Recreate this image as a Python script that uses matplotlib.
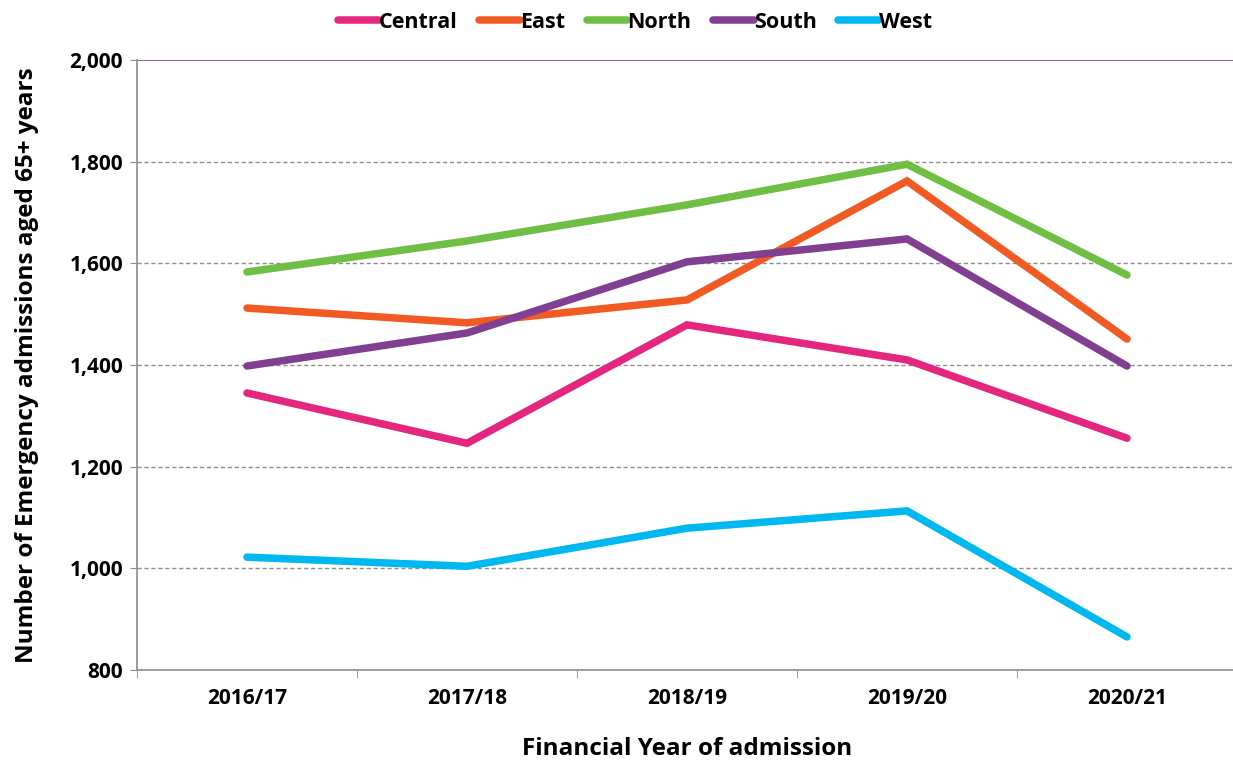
import matplotlib.pyplot as plt
from matplotlib.ticker import FuncFormatter

years = ["2016/17", "2017/18", "2018/19", "2019/20", "2020/21"]
central = [1345, 1246, 1479, 1410, 1256]
east = [1512, 1483, 1528, 1762, 1451]
north = [1583, 1644, 1715, 1795, 1577]
south = [1398, 1463, 1603, 1648, 1398]
west = [1022, 1004, 1079, 1113, 865]

series = [
    ("Central", central, "#E4267F"),
    ("East", east, "#F15A22"),
    ("North", north, "#70BF44"),
    ("South", south, "#803F91"),
    ("West", west, "#00B8F0"),
]

plt.rcParams['font.family'] = ['Open Sans', 'DejaVu Sans']

fig = plt.figure(figsize=(12.33, 7.6), dpi=100)
ax = fig.add_axes([137 / 1233, 90 / 760, 1100 / 1233, 610 / 760])

x = list(range(len(years)))
for name, vals, col in series:
    ax.plot(x, vals, color=col, lw=5.4, solid_capstyle='round',
            solid_joinstyle='miter', label=name)

ax.set_xlim(-0.5, len(years) - 0.5)
ax.set_ylim(800, 2000)
ax.set_yticks(range(800, 2001, 200))
ax.yaxis.set_major_formatter(FuncFormatter(lambda v, p: f"{int(v):,}"))
ax.set_xticks(x)
ax.set_xticklabels(years)
ax.set_xticks([i - 0.5 for i in range(len(years) + 1)], minor=True)

for v in range(1000, 2000, 200):
    ax.axhline(v, color="#8c8c8c", lw=1, ls=(0, (3, 2)), zorder=0)
ax.axhline(2000, color="#8A3E98", lw=1.2, zorder=0)

for side in ["top", "right"]:
    ax.spines[side].set_visible(False)
for side in ["left", "bottom"]:
    ax.spines[side].set_color("#8c8c8c")
    ax.spines[side].set_linewidth(1.2)

ax.tick_params(axis='y', length=5, color="#8c8c8c", labelsize=15, pad=5)
ax.tick_params(axis='x', which='major', length=0, labelsize=15, pad=13)
ax.tick_params(axis='x', which='minor', length=6, color="#8c8c8c")
for lab in ax.get_xticklabels() + ax.get_yticklabels():
    lab.set_fontweight('bold')

ax.set_xlabel("Financial Year of admission", fontsize=17.5, fontweight='bold', labelpad=20)
ax.set_ylabel("Number of Emergency admissions aged 65+ years", fontsize=17.5,
              fontweight='bold', labelpad=22)

fig.legend(loc='upper center', bbox_to_anchor=(0.515, 1.01), ncol=5, frameon=False,
           handlelength=1.9, handletextpad=0.0, columnspacing=1.0,
           prop={'weight': 'bold', 'size': 15.5})

fig.savefig("out.png", dpi=100)
